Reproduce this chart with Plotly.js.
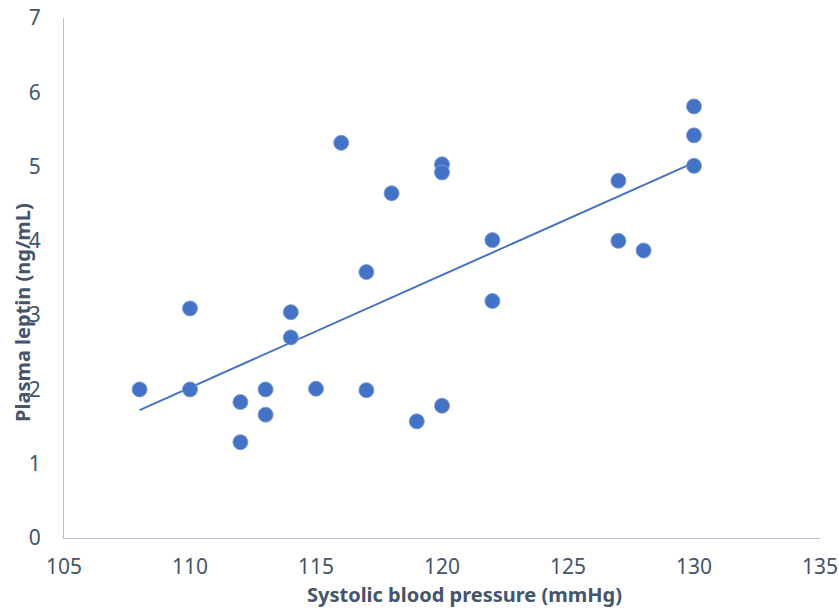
<!DOCTYPE html>
<html>
<head>
<meta charset="utf-8">
<script src="https://cdn.plot.ly/plotly-3.0.1.min.js"></script>
<style>
  html, body { margin: 0; padding: 0; background: #ffffff; }
  #chart { width: 839px; height: 609px; }
</style>
</head>
<body>
<div id="chart"></div>
<script>
// Systolic blood pressure (mmHg) for each subject
const systolic = [108, 110, 110, 112, 112, 113, 113, 114, 114, 115, 116, 117, 117,
                  118, 119, 120, 120, 120, 122, 122, 127, 127, 128, 130, 130, 130];
// Plasma leptin (ng/mL) for each subject
const leptin = [2.00, 3.09, 2.00, 1.83, 1.29, 2.00, 1.66, 3.04, 2.70, 2.01, 5.32, 3.58, 1.99,
                4.64, 1.57, 5.03, 4.92, 1.78, 4.01, 3.19, 4.81, 4.00, 3.87, 5.81, 5.42, 5.01];

const xTickVals = [105, 110, 115, 120, 125, 130, 135];
const yTickVals = [0, 1, 2, 3, 4, 5, 6, 7];

const xTitle = 'Systolic blood pressure (mmHg)';
const yTitle = 'Plasma leptin (ng/mL)';

// Ordinary least-squares linear trendline over the observed range
function linearFit(xs, ys) {
  const n = xs.length;
  const mx = xs.reduce((a, b) => a + b, 0) / n;
  const my = ys.reduce((a, b) => a + b, 0) / n;
  let sxy = 0, sxx = 0;
  for (let i = 0; i < n; i++) {
    sxy += (xs[i] - mx) * (ys[i] - my);
    sxx += (xs[i] - mx) * (xs[i] - mx);
  }
  const slope = sxy / sxx;
  return { slope: slope, intercept: my - slope * mx };
}
const fit = linearFit(systolic, leptin);
const xMin = Math.min(...systolic);
const xMax = Math.max(...systolic);
const trendX = [xMin, xMax];
const trendY = trendX.map(x => fit.intercept + fit.slope * x);

const blue = '#4472C4';
const textColor = '#44546A';
const axisColor = '#B4C0D4';
const fontFamily = '"Noto Sans", "Open Sans", sans-serif';

const traces = [
  {
    x: trendX, y: trendY,
    type: 'scatter', mode: 'lines',
    line: { color: blue, width: 2 },
    hoverinfo: 'skip', showlegend: false
  },
  {
    x: systolic, y: leptin,
    type: 'scatter', mode: 'markers',
    marker: { color: blue, size: 15, line: { color: 'rgba(120,155,215,0.9)', width: 1 } },
    showlegend: false
  }
];

const layout = {
  width: 839, height: 609,
  margin: { l: 64, r: 19, t: 18, b: 71 },
  paper_bgcolor: '#ffffff',
  plot_bgcolor: '#ffffff',
  font: { family: fontFamily, color: textColor, size: 21 },
  showlegend: false,
  xaxis: {
    range: [105, 135],
    tickvals: xTickVals,
    showgrid: false, zeroline: false,
    showline: true, linecolor: axisColor, linewidth: 1,
    ticks: '', ticklabelstandoff: 10,
    tickfont: { family: fontFamily, size: 21, color: textColor }
  },
  yaxis: {
    range: [0, 7],
    tickvals: yTickVals,
    showgrid: false, zeroline: false,
    showline: true, linecolor: axisColor, linewidth: 1,
    ticks: '', ticklabelstandoff: 18,
    tickfont: { family: fontFamily, size: 21, color: textColor }
  },
  annotations: [
    {
      text: '<b>' + xTitle + '</b>',
      xref: 'paper', yref: 'paper',
      x: 0.5298, y: -0.1096,
      xanchor: 'center', yanchor: 'middle',
      showarrow: false,
      font: { family: fontFamily, size: 20, color: textColor }
    },
    {
      text: '<b>' + yTitle + '</b>',
      xref: 'paper', yref: 'paper',
      x: -0.0556, y: 0.4346,
      xanchor: 'center', yanchor: 'middle',
      textangle: -90,
      showarrow: false,
      font: { family: fontFamily, size: 20, color: textColor }
    }
  ]
};

Plotly.newPlot('chart', traces, layout, { displayModeBar: false, staticPlot: true });
</script>
</body>
</html>
